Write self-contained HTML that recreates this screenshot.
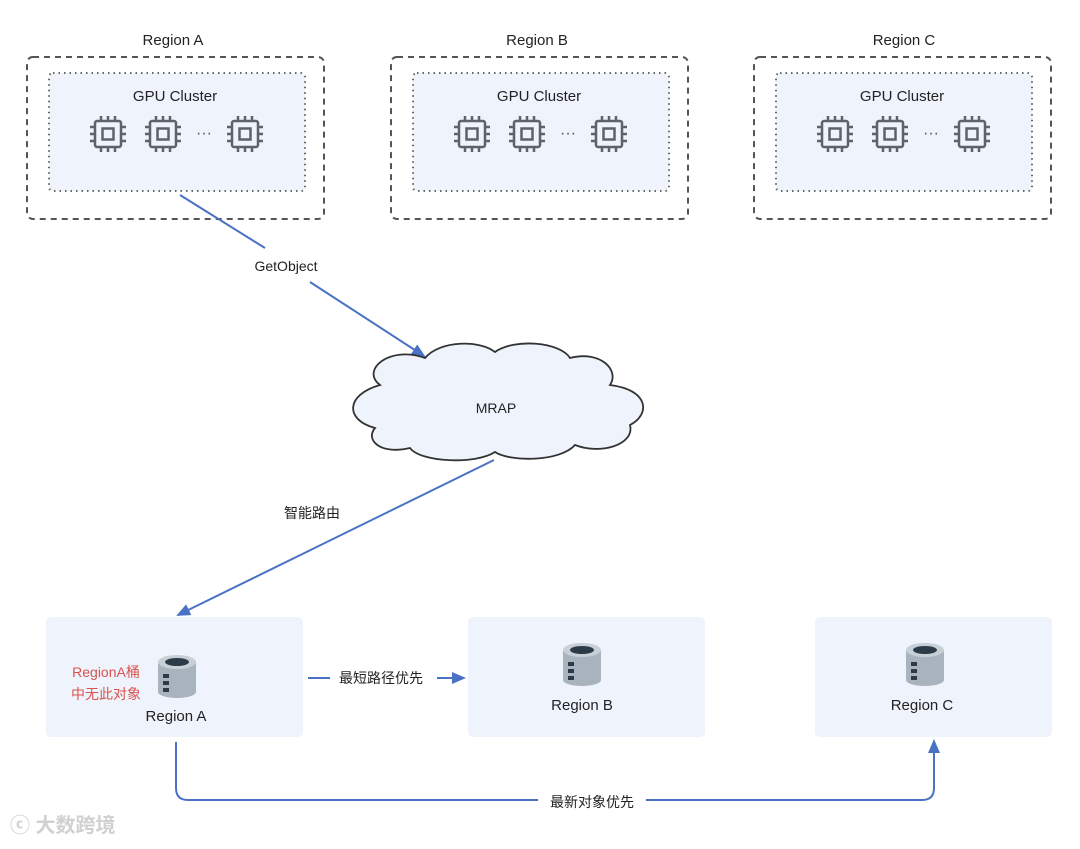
<!DOCTYPE html>
<html><head><meta charset="utf-8"><style>
body{margin:0;background:#fff}
text{font-family:"Liberation Sans","Noto Sans CJK SC",sans-serif}
</style></head><body>
<svg width="1080" height="844" viewBox="0 0 1080 844" xmlns="http://www.w3.org/2000/svg" fill="#222">
<defs>
<marker id="ar" markerWidth="14" markerHeight="12" refX="12" refY="6" orient="auto" markerUnits="userSpaceOnUse"><path d="M0,0 L14,6 L0,12 z" fill="#4a72c4"/></marker>
<g id="chip" fill="none" stroke="#5f6368" stroke-width="2.5">
<rect x="-13" y="-13" width="26" height="26" rx="2"/>
<rect x="-5.5" y="-5.5" width="11" height="11"/>
<path d="M-7,-13v-5M0,-13v-5M7,-13v-5M-7,13v5M0,13v5M7,13v5M-13,-7h-5M-13,0h-5M-13,7h-5M13,-7h5M13,0h5M13,7h5"/>
</g>
<g id="gpu">
<rect x="0" y="0" width="297" height="162" rx="6" fill="#fff" stroke="#555" stroke-width="2" stroke-dasharray="6,5"/>
<rect x="22" y="16" width="256" height="118" rx="4" fill="#eff3fc" stroke="#666" stroke-width="2" stroke-dasharray="1.5,4"/>
<text x="148" y="44" font-size="15" text-anchor="middle" fill="#222">GPU Cluster</text>
<use href="#chip" x="81" y="77"/><use href="#chip" x="136" y="77"/><use href="#chip" x="218" y="77"/>
<text x="177" y="81" font-size="16" text-anchor="middle" fill="#555">···</text>
</g>
<g id="bkt">
<path d="M-19,-12 v30 a19,6 0 0 0 38,0 v-30z" fill="#a8b3bd"/>
<ellipse cx="0" cy="-12" rx="19" ry="7" fill="#c8d0d7"/>
<ellipse cx="0" cy="-12" rx="12" ry="4" fill="#2d3a48"/>
<rect x="-14" y="0" width="6" height="4" fill="#2d3a48"/>
<rect x="-14" y="7" width="6" height="4" fill="#2d3a48"/>
<rect x="-14" y="14" width="6" height="4" fill="#2d3a48"/>
</g>
</defs>
<text x="173" y="45" font-size="15" text-anchor="middle">Region A</text>
<text x="537" y="45" font-size="15" text-anchor="middle">Region B</text>
<text x="904" y="45" font-size="15" text-anchor="middle">Region C</text>
<use href="#gpu" x="27" y="57"/><use href="#gpu" x="391" y="57"/><use href="#gpu" x="754" y="57"/>

<path d="M180,195 L265,248" stroke="#4a72c4" stroke-width="2"/>
<text x="286" y="271" font-size="14" text-anchor="middle">GetObject</text>
<path d="M310,282 L424,356" stroke="#4a72c4" stroke-width="2" marker-end="url(#ar)"/>

<path d="M380,385 C360,370 390,345 425,358 C440,340 480,340 495,352 C515,338 560,342 570,358 C600,350 620,370 610,385 C650,390 650,415 630,425 C635,445 600,455 575,445 C560,462 510,462 495,452 C475,465 420,462 410,448 C380,455 365,440 375,428 C345,420 345,395 380,385 z" fill="#eff3fc" stroke="#333" stroke-width="1.8"/>
<text x="496" y="413" font-size="14" text-anchor="middle">MRAP</text>

<path d="M494,460 L178,615" stroke="#4a72c4" stroke-width="2" marker-end="url(#ar)"/>
<text x="312" y="518" font-size="14" text-anchor="middle">智能路由</text>

<rect x="46" y="617" width="257" height="120" rx="5" fill="#eff3fc"/>
<rect x="468" y="617" width="237" height="120" rx="5" fill="#eff3fc"/>
<rect x="815" y="617" width="237" height="120" rx="5" fill="#eff3fc"/>
<use href="#bkt" x="177" y="674"/><use href="#bkt" x="582" y="662"/><use href="#bkt" x="925" y="662"/>
<text x="106" y="677" font-size="14" text-anchor="middle" style="fill:#d9534f">RegionA桶</text>
<text x="106" y="699" font-size="14" text-anchor="middle" style="fill:#d9534f">中无此对象</text>
<text x="176" y="721" font-size="15" text-anchor="middle">Region A</text>
<text x="582" y="710" font-size="15" text-anchor="middle">Region B</text>
<text x="922" y="710" font-size="15" text-anchor="middle">Region C</text>

<path d="M308,678 H330" stroke="#4a72c4" stroke-width="2"/>
<text x="381" y="683" font-size="14" text-anchor="middle">最短路径优先</text>
<path d="M437,678 H464" stroke="#4a72c4" stroke-width="2" marker-end="url(#ar)"/>

<path d="M176,742 V788 Q176,800 188,800 H538 M646,800 H922 Q934,800 934,788 V741" fill="none" stroke="#4a72c4" stroke-width="2" marker-end="url(#ar)"/>
<text x="592" y="807" font-size="14" text-anchor="middle">最新对象优先</text>
<text x="10" y="832" font-size="20" font-weight="bold" style="fill:#d0d0d0">ⓒ 大数跨境</text>
</svg>
</body></html>
